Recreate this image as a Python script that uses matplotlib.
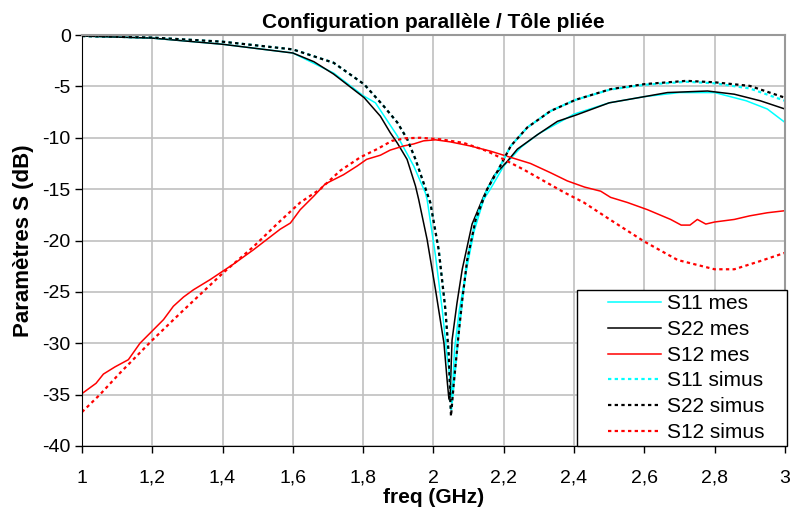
import numpy as np
import matplotlib
matplotlib.use('Agg')
import matplotlib.pyplot as plt
from matplotlib.ticker import FuncFormatter, MultipleLocator
from matplotlib.legend_handler import HandlerLine2D

plt.rcParams['font.family'] = ['Liberation Sans', 'DejaVu Sans']

# valeurs (freq en GHz, S en dB)
f_s11_mes = [1.0, 1.2, 1.4, 1.6, 1.716, 1.8, 1.835, 1.897, 1.944, 1.977, 1.982, 2.006,
             2.025, 2.039, 2.048, 2.053, 2.06, 2.074, 2.096, 2.115, 2.143, 2.162, 2.2,
             2.25, 2.3, 2.4, 2.5, 2.6, 2.7, 2.8, 2.89, 2.95, 3.0]
s11_mes = [-0.1, -0.3, -0.9, -1.75, -3.7, -5.9, -6.6, -9.8, -12.75, -15.35, -16.0, -21.5,
           -26.7, -31.3, -33.6, -35.3, -30.6, -26.7, -22.5, -19.2, -16.0, -15.0, -12.75,
           -10.9, -9.6, -7.7, -6.6, -6.0, -5.6, -5.6, -6.4, -7.2, -8.5]

f_s22_mes = [1.0, 1.2, 1.4, 1.6, 1.66, 1.716, 1.803, 1.849, 1.877, 1.897, 1.925, 1.949,
             1.958, 1.982, 2.006, 2.03, 2.039, 2.044, 2.047, 2.053, 2.067, 2.082, 2.096,
             2.11, 2.143, 2.172, 2.21, 2.239, 2.296, 2.353, 2.405, 2.5, 2.6, 2.666, 2.78,
             2.856, 2.93, 3.0]
s22_mes = [-0.1, -0.3, -0.9, -1.75, -2.6, -3.8, -6.1, -7.9, -9.5, -10.5, -12.1, -14.7,
           -16.0, -19.9, -24.8, -30.0, -33.6, -35.4, -35.6, -29.7, -26.1, -22.8, -20.6,
           -18.4, -15.7, -13.7, -12.3, -11.1, -9.7, -8.4, -7.8, -6.6, -6.0, -5.6, -5.45,
           -5.76, -6.4, -7.2]

f_s12_mes = [1.0, 1.04, 1.061, 1.094, 1.132, 1.165, 1.2, 1.232, 1.26, 1.289, 1.317, 1.365,
             1.4, 1.431, 1.488, 1.526, 1.564, 1.593, 1.621, 1.659, 1.692, 1.744, 1.783,
             1.81, 1.849, 1.877, 1.915, 1.944, 1.972, 2.006, 2.048, 2.105, 2.162, 2.219,
             2.276, 2.333, 2.381, 2.43, 2.476, 2.504, 2.552, 2.609, 2.675, 2.705, 2.73,
             2.751, 2.775, 2.8, 2.856, 2.9, 2.95, 3.0]
s12_mes = [-34.9, -33.9, -33.0, -32.3, -31.6, -30.0, -28.8, -27.7, -26.4, -25.5, -24.8, -23.8,
           -23.0, -22.3, -20.9, -19.9, -18.9, -18.3, -17.0, -15.7, -14.5, -13.6, -12.75,
           -12.1, -11.7, -11.2, -10.8, -10.6, -10.3, -10.2, -10.4, -10.8, -11.3, -11.9,
           -12.5, -13.4, -14.2, -14.8, -15.2, -15.8, -16.3, -17.0, -17.95, -18.5, -18.5,
           -17.95, -18.4, -18.2, -17.95, -17.6, -17.3, -17.1]

f_s22_sim = [1.0, 1.2, 1.4, 1.6, 1.716, 1.803, 1.858, 1.897, 1.925, 1.949, 1.972, 1.991,
             2.015, 2.034, 2.044, 2.048, 2.05, 2.058, 2.072, 2.082, 2.096, 2.12, 2.153,
             2.18, 2.22, 2.267, 2.333, 2.405, 2.504, 2.6, 2.72, 2.8, 2.9, 3.0]
s22_sim = [-0.1, -0.25, -0.65, -1.4, -2.7, -4.8, -6.9, -8.5, -10.1, -12.1, -14.4, -16.3,
           -20.9, -26.7, -31.3, -35.5, -37.1, -33.9, -29.0, -25.8, -21.9, -18.0, -15.0,
           -13.4, -10.8, -9.0, -7.4, -6.3, -5.27, -4.78, -4.46, -4.6, -4.95, -6.1]

f_s11_sim = f_s22_sim
s11_sim = [-0.1, -0.25, -0.65, -1.4, -2.7, -4.8, -6.9, -8.5, -10.1, -12.1, -14.4, -16.3,
           -20.9, -26.7, -31.3, -35.0, -36.6, -33.9, -29.0, -25.8, -21.9, -18.0, -15.0,
           -13.4, -10.8, -9.0, -7.4, -6.3, -5.3, -4.85, -4.55, -4.7, -5.2, -6.4]

f_s12_sim = [1.0, 1.051, 1.108, 1.2, 1.279, 1.4, 1.488, 1.564, 1.621, 1.678, 1.735, 1.792,
             1.84, 1.882, 1.92, 1.963, 2.02, 2.086, 2.153, 2.2, 2.257, 2.314, 2.371, 2.428,
             2.504, 2.6, 2.695, 2.8, 2.856, 2.93, 3.0]
s12_sim = [-36.7, -35.0, -32.9, -29.7, -27.1, -23.2, -20.6, -18.1, -16.3, -15.0, -13.2, -11.9,
           -11.1, -10.3, -10.05, -10.0, -10.15, -10.5, -11.3, -12.1, -13.1, -14.2, -15.3, -16.3,
           -18.0, -20.1, -21.9, -22.8, -22.8, -22.0, -21.2]


class DecaleHandler(HandlerLine2D):
    # trait de legende decale vers la droite (marge gauche comme Excel)
    def create_artists(self, legend, orig_handle, xdescent, ydescent, width, height, fontsize, trans):
        arts = super().create_artists(legend, orig_handle, xdescent, ydescent, width, height, fontsize, trans)
        legline = arts[0]
        xd = np.asarray(legline.get_xdata(), dtype=float).copy()
        xd[0] += 1.3 * fontsize
        legline.set_xdata(xd)
        return arts


fig = plt.figure(figsize=(7.92, 5.15), dpi=100)
ax = fig.add_axes([0.1035, 0.134, 0.8875, 0.798])

dots = (0, (1.5, 1.5))
lines = []
lines += ax.plot(f_s11_mes, s11_mes, color='#00ffff', lw=1.1, label='S11 mes')
lines += ax.plot(f_s22_mes, s22_mes, color='black', lw=1.1, label='S22 mes')
lines += ax.plot(f_s12_mes, s12_mes, color='#ff0000', lw=1.1, label='S12 mes')
lines += ax.plot(f_s11_sim, s11_sim, color='#00ffff', lw=1.6, ls=dots, label='S11 simus')
lines += ax.plot(f_s22_sim, s22_sim, color='black', lw=1.6, ls=dots, label='S22 simus')
lines += ax.plot(f_s12_sim, s12_sim, color='#ff0000', lw=1.6, ls=dots, label='S12 simus')

ax.set_xlim(1, 3)
ax.set_ylim(-40, 0)
ax.xaxis.set_major_locator(MultipleLocator(0.2))
ax.yaxis.set_major_locator(MultipleLocator(5))
ax.xaxis.set_major_formatter(FuncFormatter(lambda v, p: ('%g' % round(v, 1)).replace('.', ',')))
ax.yaxis.set_major_formatter(FuncFormatter(lambda v, p: '%d' % round(v)))
ax.grid(True, color='#c0c0c0', lw=1.2)
ax.set_axisbelow(True)
ax.tick_params(direction='out', length=5, width=1, labelsize=14, colors='black')
ax.tick_params(axis='x', pad=12)
ax.tick_params(axis='y', pad=3)

ax.spines['left'].set_color('black')
ax.spines['bottom'].set_color('black')
ax.spines['top'].set_color('#999999')
ax.spines['right'].set_color('#999999')
ax.spines['top'].set_linewidth(1.5)
ax.spines['right'].set_linewidth(1.5)

ax.set_title('Configuration parallèle / Tôle pliée', fontsize=15, fontweight='bold', pad=5)
ax.set_xlabel('freq (GHz)', fontsize=15, fontweight='bold', labelpad=1)
ax.set_ylabel('Paramètres S (dB)', fontsize=16, fontweight='bold', labelpad=6)

leg = ax.legend(handles=lines, loc='lower left', bbox_to_anchor=(0.704, 0, 0.299, 0.38),
                mode='expand', borderaxespad=0, fancybox=False, framealpha=1,
                edgecolor='black', fontsize=15, handlelength=3.85, handletextpad=0.3,
                labelspacing=0.32, borderpad=0.2,
                handler_map={l: DecaleHandler() for l in lines})
leg.get_frame().set_linewidth(1.0)

fig.savefig('out.png', dpi=100)
